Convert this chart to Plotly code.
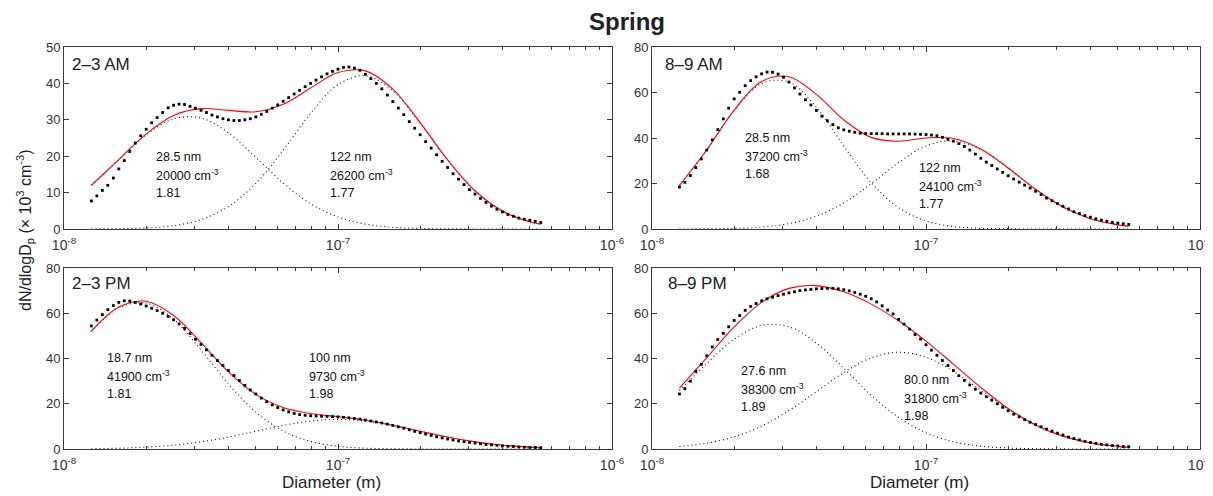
import plotly.graph_objects as go

W, H = 1213, 496
OFF = 8  # page body margin offset
ML, MR, MT, MB = 52, 0, 32, 32
PW, PH = W - ML - MR, H - MT - MB
FONT = "Liberation Sans, Arial, Helvetica, sans-serif"
AX = "#3a3a3a"

# ---------------- data ----------------
# measured channel diameters (nm)
D_MEAS_NM = [12.59, 13.18, 13.80, 14.45, 15.14, 15.85, 16.60, 17.38, 18.20, 19.05,
             19.95, 20.89, 21.88, 22.91, 23.99, 25.12, 26.30, 27.54, 28.84, 30.20,
             31.62, 33.11, 34.67, 36.31, 38.02, 39.81, 41.69, 43.65, 45.71, 47.86,
             50.12, 52.48, 54.95, 57.54, 60.26, 63.10, 66.07, 69.18, 72.44, 75.86,
             79.43, 83.18, 87.10, 91.20, 95.50, 100.0, 104.7, 109.6, 114.8, 120.2,
             125.9, 131.8, 138.0, 144.5, 151.4, 158.5, 166.0, 173.8, 182.0, 190.5,
             199.5, 208.9, 218.8, 229.1, 239.9, 251.2, 263.0, 275.4, 288.4, 302.0,
             316.2, 331.1, 346.7, 363.1, 380.2, 398.1, 416.9, 436.5, 457.1, 478.6,
             501.2, 524.8, 549.5]
# fitted-curve diameters (nm)
D_FIT_NM = [12.59, 15.85, 19.95, 25.12, 31.62, 39.81, 50.12, 63.10, 79.43, 100.0,
            125.9, 158.5, 199.5, 251.2, 316.2, 398.1, 501.2, 549.5]

PANEL_NAMES = ["2–3 AM", "8–9 AM", "2–3 PM", "8–9 PM"]

MEAS_AM23 = [7.7, 9.1, 10.6, 12.0, 14.0, 16.5, 18.8, 21.3, 23.6, 25.6,
             27.4, 29.2, 30.6, 32.0, 33.3, 34.0, 34.3, 34.2, 33.7, 33.2,
             32.6, 32.0, 31.3, 30.8, 30.3, 30.0, 29.8, 29.8, 30.0, 30.3,
             30.8, 31.5, 32.3, 33.2, 34.1, 35.1, 36.1, 37.1, 38.1, 39.1,
             40.0, 40.9, 41.8, 42.6, 43.3, 43.9, 44.4, 44.5, 44.2, 43.6,
             42.5, 41.3, 40.0, 38.5, 36.8, 35.0, 33.2, 31.4, 29.5, 27.7,
             25.9, 24.0, 22.2, 20.4, 18.6, 16.9, 15.2, 13.7, 12.2, 10.8,
             9.6, 8.4, 7.3, 6.3, 5.4, 4.7, 4.0, 3.5, 3.0, 2.7,
             2.4, 2.1, 1.8]
MEAS_AM89 = [18.4, 20.5, 23.5, 27.0, 30.8, 34.7, 39.2, 43.7, 48.4, 53.1,
             57.2, 60.1, 63.0, 65.2, 66.9, 68.2, 69.0, 68.9, 68.1, 66.7,
             64.6, 62.0, 59.3, 56.8, 54.5, 52.1, 49.6, 47.6, 45.9, 44.5,
             43.6, 43.0, 42.5, 42.1, 42.0, 41.9, 41.9, 41.9, 41.8, 41.8,
             41.8, 41.8, 41.8, 41.7, 41.6, 41.5, 41.3, 41.0, 40.3, 39.4,
             38.6, 37.5, 36.3, 34.7, 32.9, 31.1, 29.4, 27.9, 26.4, 24.9,
             23.4, 22.0, 20.6, 19.3, 18.0, 16.6, 15.1, 13.6, 12.4, 11.2,
             10.0, 8.8, 7.6, 6.8, 5.9, 5.2, 4.5, 3.9, 3.4, 2.9,
             2.6, 2.3, 2.0]
MEAS_PM23 = [54.4, 57.0, 59.4, 61.6, 63.4, 64.8, 65.5, 65.4, 64.8, 64.1,
             63.2, 62.2, 61.2, 60.0, 58.6, 57.1, 55.3, 53.3, 51.0, 48.5,
             46.2, 43.8, 41.4, 39.1, 36.9, 34.7, 32.5, 30.3, 28.1, 26.1,
             24.3, 22.5, 20.9, 19.5, 18.3, 17.3, 16.4, 15.7, 15.2, 14.9,
             14.7, 14.6, 14.5, 14.4, 14.3, 14.2, 14.0, 13.8, 13.5, 13.2,
             12.8, 12.4, 12.0, 11.5, 11.0, 10.4, 9.8, 9.2, 8.5, 7.8,
             7.2, 6.6, 6.0, 5.4, 4.9, 4.4, 4.0, 3.5, 3.2, 2.9,
             2.6, 2.3, 2.0, 1.8, 1.6, 1.4, 1.2, 1.1, 0.9, 0.8,
             0.7, 0.7, 0.6]
MEAS_PM89 = [24.3, 26.7, 30.0, 34.3, 37.4, 41.2, 45.1, 48.4, 51.1, 54.0,
             56.8, 59.0, 61.3, 63.0, 64.3, 65.5, 66.4, 67.1, 67.8, 68.4,
             69.0, 69.5, 70.0, 70.3, 70.5, 70.8, 70.9, 71.0, 71.0, 70.8,
             70.4, 69.9, 69.2, 68.4, 67.5, 66.4, 65.0, 63.3, 61.4, 59.7,
             57.3, 55.2, 53.0, 50.6, 48.6, 46.1, 43.7, 41.4, 39.1, 36.9,
             34.7, 32.4, 30.3, 28.3, 26.4, 24.7, 23.1, 21.6, 20.0, 18.4,
             16.9, 15.4, 14.2, 13.0, 11.8, 10.8, 9.8, 8.8, 7.9, 7.0,
             6.2, 5.3, 4.6, 4.0, 3.4, 2.9, 2.5, 2.1, 1.8, 1.5,
             1.3, 1.1, 1.0]

MODE1_AM23 = [12.00, 18.99, 25.85, 30.27, 30.49, 26.42, 19.69, 12.62, 6.96, 3.30, 1.35, 0.47, 0.14, 0.04, 0.01, 0.0, 0.0, 0.0]
MODE2_AM23 = [0.02, 0.07, 0.28, 0.92, 2.57, 6.16, 12.52, 21.64, 31.78, 39.67, 42.09, 37.95, 29.09, 18.95, 10.49, 4.94, 1.97, 1.31]
FIT_AM23 = [12.02, 19.06, 26.13, 31.19, 33.06, 32.58, 32.21, 34.26, 38.74, 42.97, 43.44, 38.42, 29.23, 18.99, 10.50, 4.94, 1.97, 1.31]

MODE1_AM89 = [19.06, 34.75, 52.02, 63.95, 64.56, 53.51, 36.43, 20.37, 9.35, 3.53, 1.09, 0.28, 0.06, 0.01, 0.0, 0.0, 0.0, 0.0]
MODE2_AM89 = [0.01, 0.07, 0.25, 0.84, 2.37, 5.66, 11.52, 19.90, 29.23, 36.49, 38.71, 34.91, 26.76, 17.43, 9.65, 4.54, 1.82, 1.20]
FIT_AM89 = [19.07, 34.82, 52.27, 64.79, 66.93, 59.17, 47.95, 40.27, 38.58, 40.02, 39.80, 35.19, 26.82, 17.44, 9.65, 4.54, 1.82, 1.20]

MODE1_PM23 = [51.93, 62.39, 64.47, 57.31, 43.83, 28.83, 16.31, 7.94, 3.32, 1.20, 0.37, 0.10, 0.02, 0.0, 0.0, 0.0, 0.0, 0.0]
MODE2_PM23 = [0.13, 0.35, 0.81, 1.69, 3.16, 5.27, 7.85, 10.42, 12.36, 13.08, 12.36, 10.42, 7.85, 5.27, 3.16, 1.69, 0.81, 0.58]
FIT_PM23 = [52.06, 62.74, 65.28, 59.00, 46.99, 34.10, 24.16, 18.36, 15.68, 14.28, 12.73, 10.52, 7.87, 5.27, 3.16, 1.69, 0.81, 0.58]

MODE1_PM89 = [25.85, 37.81, 48.53, 54.66, 54.01, 46.83, 35.63, 23.78, 13.93, 7.15, 3.22, 1.27, 0.44, 0.13, 0.04, 0.01, 0.0, 0.0]
MODE2_PM89 = [1.10, 2.58, 5.42, 10.16, 16.99, 25.37, 33.83, 40.25, 42.76, 40.54, 34.31, 25.92, 17.48, 10.52, 5.65, 2.71, 1.16, 0.80]
FIT_PM89 = [26.95, 40.39, 53.95, 64.82, 71.00, 72.20, 69.46, 64.03, 56.69, 47.69, 37.53, 27.19, 17.92, 10.65, 5.69, 2.72, 1.16, 0.80]

# mode parameter labels: (diameter, number conc., geometric std)
LABELS_AM23 = [("28.5 nm", "20000", "1.81"), ("122 nm", "26200", "1.77")]
LABELS_AM89 = [("28.5 nm", "37200", "1.68"), ("122 nm", "24100", "1.77")]
LABELS_PM23 = [("18.7 nm", "41900", "1.81"), ("100 nm", "9730", "1.98")]
LABELS_PM89 = [("27.6 nm", "38300", "1.89"), ("80.0 nm", "31800", "1.98")]

Y_MAX = [50, 80, 80, 80]
Y_DTICK = [10, 20, 20, 20]
X_TICKS = [1e-8, 1e-7, 1e-6]
X_TICKTEXT = ["10<sup>-8</sup>", "10<sup>-7</sup>", "10<sup>-6</sup>"]
X_MINOR = [m * 10.0 ** e for e in (-8, -7) for m in range(2, 10)]

# ---------------- layout geometry (page pixels) ----------------
PANEL_BOX = [  # left, right, top, bottom
    (64, 612, 47, 229),
    (652, 1200, 47, 229),
    (64, 612, 268, 449),
    (652, 1200, 268, 449),
]
LABEL_POS = [(70, 64), (663, 65), (70, 283), (666, 283)]
TEXT_POS = [  # (x, y of first line) for each mode text block
    [(154, 157), (328, 157)],
    [(743, 138), (917, 168)],
    [(105, 358), (307, 358)],
    [(739, 371), (902, 380)],
]
LINE_STEP = 18

MEAS = [MEAS_AM23, MEAS_AM89, MEAS_PM23, MEAS_PM89]
MODE1 = [MODE1_AM23, MODE1_AM89, MODE1_PM23, MODE1_PM89]
MODE2 = [MODE2_AM23, MODE2_AM89, MODE2_PM23, MODE2_PM89]
FIT = [FIT_AM23, FIT_AM89, FIT_PM23, FIT_PM89]
LABELS = [LABELS_AM23, LABELS_AM89, LABELS_PM23, LABELS_PM89]

d_meas = [d * 1e-9 for d in D_MEAS_NM]
d_fit = [d * 1e-9 for d in D_FIT_NM]


def px(x, y):
    """page pixel -> paper (plot-area) fraction"""
    return (x - OFF - ML) / PW, 1 - (y - OFF - MT) / PH


fig = go.Figure()
layout = dict()
annotations = []

for i in range(4):
    sfx = "" if i == 0 else str(i + 1)
    xa, ya = "x" + sfx, "y" + sfx
    for mode in (MODE1[i], MODE2[i]):
        fig.add_trace(go.Scatter(
            x=d_fit, y=mode, xaxis=xa, yaxis=ya, mode="lines",
            line=dict(color="#111111", width=1.1, dash="1px,3px", shape="spline"),
            showlegend=False, hoverinfo="skip"))
    fig.add_trace(go.Scatter(
        x=d_fit, y=FIT[i], xaxis=xa, yaxis=ya, mode="lines",
        line=dict(color="#ff0000", width=1.1, shape="spline"),
        showlegend=False))
    fig.add_trace(go.Scatter(
        x=d_meas, y=MEAS[i], xaxis=xa, yaxis=ya, mode="markers",
        marker=dict(symbol="square", size=2.8, color="#000000", line=dict(width=0)),
        showlegend=False))

    l, r, t, b = PANEL_BOX[i]
    x0, y0 = px(l, b)
    x1, y1 = px(r, t)
    layout["xaxis" + sfx] = dict(
        type="log", range=[-8, -6], domain=[x0, x1], anchor=ya, automargin=False,
        showline=True, mirror="ticks", linecolor=AX, linewidth=1,
        ticks="inside", ticklen=5, tickwidth=1, tickcolor=AX,
        tickmode="array", tickvals=X_TICKS, ticktext=X_TICKTEXT,
        tickfont=dict(size=14, color="#333333", family=FONT),
        ticklabelstandoff=3,
        showgrid=False, zeroline=False,
        minor=dict(ticks="inside", ticklen=3, tickwidth=1, tickcolor=AX,
                   tickmode="array", tickvals=X_MINOR, showgrid=False),
    )
    layout["yaxis" + sfx] = dict(
        range=[0, Y_MAX[i]], domain=[y0, y1], anchor=xa, automargin=False,
        showline=True, mirror="ticks", linecolor=AX, linewidth=1,
        ticks="inside", ticklen=5, tickwidth=1, tickcolor=AX,
        dtick=Y_DTICK[i], tick0=0,
        tickfont=dict(size=13, color="#333333", family=FONT),
        showgrid=False, zeroline=False,
    )

    lx, ly = LABEL_POS[i]
    ax_, ay_ = px(lx, ly)
    annotations.append(dict(x=ax_, y=ay_, xref="paper", yref="paper", text=PANEL_NAMES[i],
                            showarrow=False, xanchor="left", yanchor="middle",
                            font=dict(size=17, color="#222222", family=FONT)))
    for (tx, ty), (dtxt, ntxt, stxt) in zip(TEXT_POS[i], LABELS[i]):
        lines = [dtxt, ntxt + " cm<sup>-3</sup>", stxt]
        for j, s in enumerate(lines):
            axp, ayp = px(tx, ty + j * LINE_STEP)
            annotations.append(dict(x=axp, y=ayp, xref="paper", yref="paper", text=s,
                                    showarrow=False, xanchor="left", yanchor="middle",
                                    font=dict(size=12.5, color="#111111", family=FONT)))

# axis titles & figure title
for cx in (331, 919):
    axp, ayp = px(cx, 482)
    annotations.append(dict(x=axp, y=ayp, xref="paper", yref="paper", text="Diameter (m)",
                            showarrow=False, xanchor="center", yanchor="middle",
                            font=dict(size=17, color="#222222", family=FONT)))
axp, ayp = px(25, 230)
annotations.append(dict(x=axp, y=ayp, xref="paper", yref="paper",
                        text="dN/dlogD<sub>p</sub> (× 10<sup>3</sup> cm<sup>-3</sup>)",
                        showarrow=False, textangle=-90, xanchor="center", yanchor="middle",
                        font=dict(size=16, color="#222222", family=FONT)))
axp, ayp = px(627, 22)
annotations.append(dict(x=axp, y=ayp, xref="paper", yref="paper", text="<b>Spring</b>",
                        showarrow=False, xanchor="center", yanchor="middle",
                        font=dict(size=24, color="#222222", family=FONT)))

fig.update_layout(
    width=W, height=H,
    margin=dict(l=ML, r=MR, t=MT, b=MB, autoexpand=False),
    paper_bgcolor="white", plot_bgcolor="white",
    font=dict(family=FONT),
    annotations=annotations,
    **layout,
)

fig.write_html("out.html")
